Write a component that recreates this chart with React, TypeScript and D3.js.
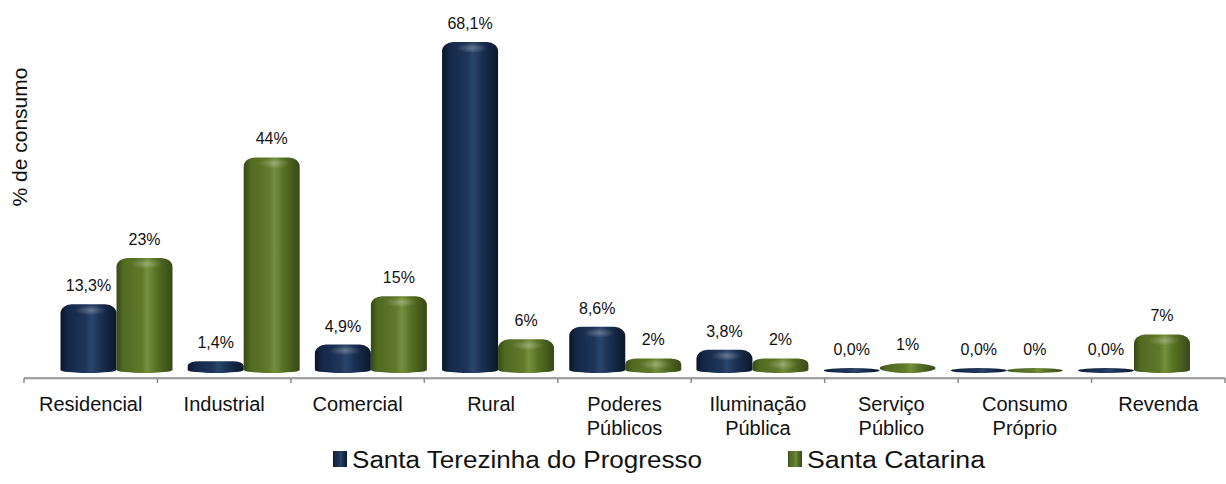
import React from "react";
import * as d3 from "d3";

// Consumo de energia por classe (%)
const categories: string[][] = [
  ["Residencial"],
  ["Industrial"],
  ["Comercial"],
  ["Rural"],
  ["Poderes", "Públicos"],
  ["Iluminação", "Pública"],
  ["Serviço", "Público"],
  ["Consumo", "Próprio"],
  ["Revenda"],
];
const seriesNames = ["Santa Terezinha do Progresso", "Santa Catarina"];
const terezinhaValues = [13.3, 1.4, 4.9, 68.1, 8.6, 3.8, 0.0, 0.0, 0.0];
const terezinhaLabels = ["13,3%", "1,4%", "4,9%", "68,1%", "8,6%", "3,8%", "0,0%", "0,0%", "0,0%"];
const catarinaValues = [23, 44, 15, 6, 2, 2, 1, 0, 7];
const catarinaLabels = ["23%", "44%", "15%", "6%", "2%", "2%", "1%", "0%", "7%"];
const yAxisTitle = "% de consumo";

const W = 1226;
const H = 484;
const FONT = "'Liberation Sans', Arial, sans-serif";

function barPath(x0: number, x1: number, top: number, bottom: number): string {
  const w = x1 - x0;
  const h = bottom - top;
  if (h < 10) {
    const cx = (x0 + x1) / 2;
    const cy = (top + bottom) / 2;
    const rx = w / 2;
    const ry = h / 2;
    return `M${x0},${cy} A${rx},${ry} 0 0 1 ${x1},${cy} A${rx},${ry} 0 0 1 ${x0},${cy} Z`;
  }
  const rxT = Math.min(11, w / 2);
  const ryT = Math.min(9, (h - 3) / 2);
  const ryB = 3;
  return [
    `M${x0},${bottom - ryB}`,
    `L${x0},${top + ryT}`,
    `A${rxT},${ryT} 0 0 1 ${x0 + rxT},${top}`,
    `L${x1 - rxT},${top}`,
    `A${rxT},${ryT} 0 0 1 ${x1},${top + ryT}`,
    `L${x1},${bottom - ryB}`,
    `A${w / 2},${ryB} 0 0 1 ${x0},${bottom - ryB}`,
    "Z",
  ].join(" ");
}

export default function App() {
  const keys = categories.map((c) => c.join(" "));

  // front axis plane
  const xAxis = d3.scaleBand<string>().domain(keys).range([24, 1225]);
  // bars sit on a slightly receding plane (3D perspective)
  const xGroup = d3.scalePoint<string>().domain(keys).range([116.5, 1134]);
  const xSeries = d3.scaleBand<number>().domain([0, 1]).range([-56, 56]);

  const y = d3.scaleLinear().domain([0, 70]).range([369, 369 - 70 * 4.786]);
  const floorY = 373;
  const axisY = 378;

  const series = [
    { values: terezinhaValues, labels: terezinhaLabels, grad: "gNavy" },
    { values: catarinaValues, labels: catarinaLabels, grad: "gGreen" },
  ];

  return (
    <svg
      width={W}
      height={H}
      style={{ position: "absolute", left: 0, top: 0, background: "#fff" }}
      fontFamily={FONT}
    >
      <defs>
        <linearGradient id="gNavy" x1="0" x2="1" y1="0" y2="0">
          <stop offset="0%" stopColor="#0a1526" />
          <stop offset="12%" stopColor="#142747" />
          <stop offset="45%" stopColor="#1f3659" />
          <stop offset="55%" stopColor="#2a456c" />
          <stop offset="72%" stopColor="#1a2f51" />
          <stop offset="100%" stopColor="#0b172a" />
        </linearGradient>
        <linearGradient id="gGreen" x1="0" x2="1" y1="0" y2="0">
          <stop offset="0%" stopColor="#37481a" />
          <stop offset="12%" stopColor="#506a20" />
          <stop offset="45%" stopColor="#60792b" />
          <stop offset="55%" stopColor="#72903e" />
          <stop offset="72%" stopColor="#566f23" />
          <stop offset="100%" stopColor="#384918" />
        </linearGradient>
        <radialGradient id="gShine" cx="0.5" cy="0.5" r="0.5">
          <stop offset="0%" stopColor="#ffffff" stopOpacity={0.28} />
          <stop offset="100%" stopColor="#ffffff" stopOpacity={0} />
        </radialGradient>
      </defs>

      {/* category axis */}
      <line x1={24} x2={1225} y1={axisY} y2={axisY} stroke="#a3a3a3" strokeWidth={2} />
      <line x1={24} x2={1225} y1={axisY + 1.5} y2={axisY + 1.5} stroke="#dcdcdc" strokeWidth={1} />
      {keys.map((k) => (
        <line
          key={"t" + k}
          x1={xAxis(k)!}
          x2={xAxis(k)!}
          y1={axisY}
          y2={axisY + 5}
          stroke="#8c8c8c"
          strokeWidth={1.5}
        />
      ))}
      <line x1={1225} x2={1225} y1={axisY} y2={axisY + 5} stroke="#8c8c8c" strokeWidth={1.5} />

      {/* bars */}
      {series.map((s, si) =>
        keys.map((k, i) => {
          const cx = xGroup(k)! + xSeries(si)! + xSeries.bandwidth() / 2;
          const x0 = cx - xSeries.bandwidth() / 2;
          const x1 = cx + xSeries.bandwidth() / 2;
          const top = y(s.values[i]) - 1;
          return (
            <g key={`b${si}-${i}`}>
              <path d={barPath(x0, x1, top, floorY)} fill={`url(#${s.grad})`} />
              {floorY - top > 14 && (
                <ellipse cx={cx + 2} cy={top + 6} rx={16} ry={5} fill="url(#gShine)" />
              )}
              <text
                x={cx}
                y={top - 13}
                textAnchor="middle"
                fontSize={16}
                fill="#111"
              >
                {s.labels[i]}
              </text>
            </g>
          );
        })
      )}

      {/* category labels */}
      {categories.map((lines, i) => {
        const k = keys[i];
        const cx = xAxis(k)! + xAxis.bandwidth() / 2;
        return (
          <text key={"c" + k} textAnchor="middle" fontSize={20} fill="#111">
            {lines.map((ln, j) => (
              <tspan key={j} x={cx} y={411 + j * 24}>
                {ln}
              </tspan>
            ))}
          </text>
        );
      })}

      {/* y axis title */}
      <text
        transform="translate(27,137) rotate(-90)"
        textAnchor="middle"
        fontSize={21}
        fill="#111"
      >
        {yAxisTitle}
      </text>

      {/* legend */}
      <rect x={333} y={451} width={14} height={16} fill="url(#gNavy)" />
      <text x={352} y={468} fontSize={23} fill="#111" textLength={350} lengthAdjust="spacingAndGlyphs">
        {seriesNames[0]}
      </text>
      <rect x={788} y={451} width={14} height={16} fill="url(#gGreen)" />
      <text x={807} y={468} fontSize={23} fill="#111" textLength={178} lengthAdjust="spacingAndGlyphs">
        {seriesNames[1]}
      </text>
    </svg>
  );
}
